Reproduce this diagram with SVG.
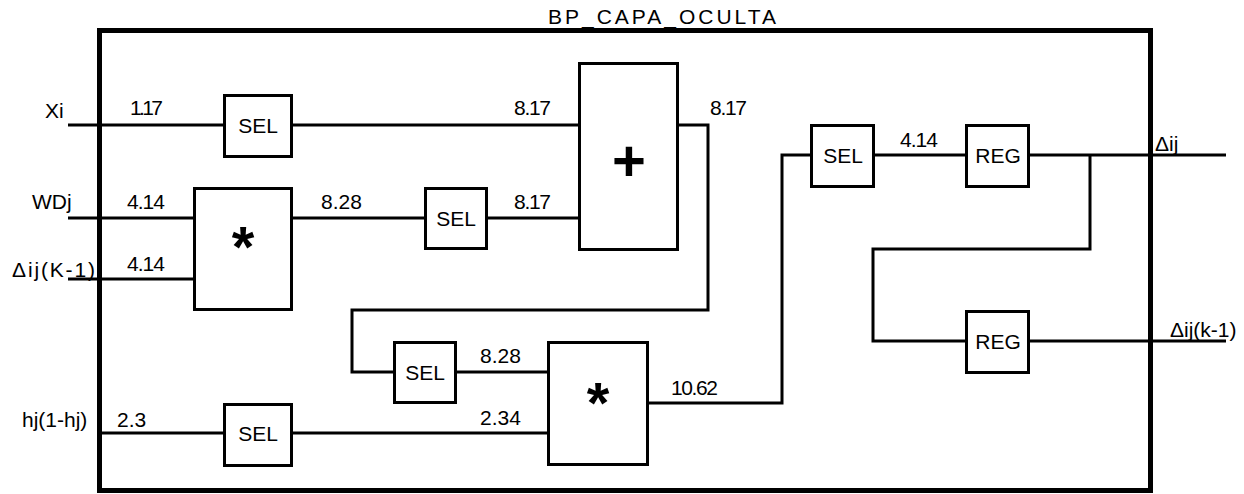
<svg xmlns="http://www.w3.org/2000/svg" width="1244" height="494" viewBox="0 0 1244 494">
<style>
text{font-family:"Liberation Sans",Arial,sans-serif;font-size:21px;fill:#000}
.blk{fill:#fff;stroke:#000;stroke-width:3}
.w{fill:none;stroke:#000;stroke-width:3}
.c{text-anchor:middle}
.op{font-size:58px;text-anchor:middle;font-weight:bold}
</style>
<rect width="1244" height="494" fill="#fff"/>
<g id="frame">
<rect x="99.5" y="30.5" width="1051" height="460" fill="none" stroke="#000" stroke-width="5"/>
<text x="548" y="24" font-size="16" textLength="228" lengthAdjust="spacing">BP_CAPA_OCULTA</text>
</g>
<g id="connectors" class="w">
<polyline points="68,125 224,125"/>
<polyline points="292,125 579,125"/>
<polyline points="68,218 194,218"/>
<polyline points="68,279 194,279"/>
<polyline points="292,218 425,218"/>
<polyline points="487,218 579,218"/>
<polyline points="678,125 708,125 708,310 352,310 352,372 394,372"/>
<polyline points="456,372 548,372"/>
<polyline points="100,433 224,433"/>
<polyline points="292,433 548,433"/>
<polyline points="648,403 782,403 782,155 811,155"/>
<polyline points="874,155 966,155"/>
<polyline points="1029,155 1226,155"/>
<polyline points="1090,155 1090,249 873,249 873,341 966,341"/>
<polyline points="1029,341 1226,341"/>
</g>
<g id="labels">
<text x="45" y="118">Xi</text>
<text x="32" y="209">WDj</text>
<text x="12" y="277" textLength="83" lengthAdjust="spacing">Δij(K-1)</text>
<text x="22" y="427">hj(1-hj)</text>
<text x="1155" y="151">Δij</text>
<text x="1170" y="337">Δij(k-1)</text>
<text x="130" y="115" textLength="33" lengthAdjust="spacing">1.17</text>
<text x="127" y="209" textLength="38" lengthAdjust="spacing">4.14</text>
<text x="127" y="271" textLength="38" lengthAdjust="spacing">4.14</text>
<text x="117" y="427">2.3</text>
<text x="321" y="209">8.28</text>
<text x="514" y="115" textLength="37" lengthAdjust="spacing">8.17</text>
<text x="514" y="209" textLength="37" lengthAdjust="spacing">8.17</text>
<text x="710" y="115" textLength="37" lengthAdjust="spacing">8.17</text>
<text x="480" y="363">8.28</text>
<text x="480" y="425">2.34</text>
<text x="671" y="395" textLength="47" lengthAdjust="spacing">10.62</text>
<text x="900" y="147" textLength="38" lengthAdjust="spacing">4.14</text>
</g>
<g id="sel1"><rect class="blk" x="224.5" y="95.5" width="67" height="61"/><text class="c" x="258" y="133">SEL</text></g>
<g id="mul1"><rect class="blk" x="194.5" y="188.5" width="97" height="121"/><text class="op" x="243" y="267">*</text></g>
<g id="sel2"><rect class="blk" x="425.5" y="188.5" width="61" height="60"/><text class="c" x="456" y="226">SEL</text></g>
<g id="add"><rect class="blk" x="579.5" y="63.5" width="98" height="186"/><text class="op" x="629" y="181" font-size="60">+</text></g>
<g id="sel3"><rect class="blk" x="394.5" y="342.5" width="61" height="60"/><text class="c" x="425" y="380">SEL</text></g>
<g id="mul2"><rect class="blk" x="548.5" y="342.5" width="99" height="122"/><text class="op" x="598" y="423">*</text></g>
<g id="sel4"><rect class="blk" x="224.5" y="404.5" width="67" height="61"/><text class="c" x="258" y="441">SEL</text></g>
<g id="sel5"><rect class="blk" x="811.5" y="125.5" width="62" height="61"/><text class="c" x="843" y="163">SEL</text></g>
<g id="reg1"><rect class="blk" x="966.5" y="125.5" width="62" height="61"/><text class="c" x="998" y="163">REG</text></g>
<g id="reg2"><rect class="blk" x="966.5" y="311.5" width="62" height="61"/><text class="c" x="998" y="349">REG</text></g>
</svg>
